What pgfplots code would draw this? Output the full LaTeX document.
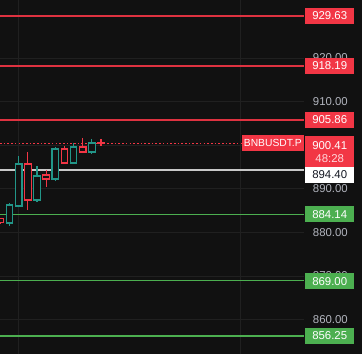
\documentclass[border=0pt]{standalone}
\usepackage{pgfplots}
\pgfplotsset{compat=1.18}
\usepackage{fontspec}
\setmainfont{Liberation Sans}
\definecolor{bg}{RGB}{17,17,17}
\definecolor{grd}{RGB}{32,32,32}
\definecolor{tvred}{RGB}{242,54,69}
\definecolor{lred}{RGB}{222,50,64}
\definecolor{tvgreen}{RGB}{34,150,136}
\definecolor{lgreen}{RGB}{76,175,80}
\definecolor{tickc}{RGB}{178,181,190}
\definecolor{wline}{RGB}{200,200,200}
\definecolor{pinkw}{RGB}{255,215,220}
% \candle{colour}{x}{x left}{x right}{open}{close}{high}{low}
\newcommand\candle[8]{%
  \addplot[#1, line width=1.1pt] coordinates {(#2,#7) (#2,#8)};
  \addplot[#1, line width=1.1pt, fill=bg] coordinates {(#3,#5) (#4,#5) (#4,#6) (#3,#6)} -- cycle;
}
\begin{document}
\begin{tikzpicture}
\fill[bg] (0,0) rectangle (362pt,354pt);
\begin{axis}[name=ax, at={(0,0)}, anchor=south west, scale only axis,
  width=304pt, height=354pt,
  xmin=-0.04, xmax=33.18, ymin=852.11, ymax=933.30,
  axis line style={draw=none},
  major tick length=0pt,
  xtick={1.93,26.2}, xticklabels={},
  ytick={860,870,880,890,900,910,920},
  yticklabel pos=right,
  xmajorgrids, ymajorgrids,
  grid style={grd, line width=0.7pt},
  /pgf/number format/.cd, fixed, fixed zerofill, precision=2, 1000 sep={}, assume math mode=true,
  /pgfplots/.cd,
  yticklabel style={font=\fontsize{11.4}{12}\selectfont, text=tickc, anchor=east, inner sep=0pt, xshift=44pt},
  clip=false]
% level lines
\addplot[lred, line width=1.9pt] coordinates {(-0.04,929.63) (33.18,929.63)};
\addplot[lred, line width=1.9pt] coordinates {(-0.04,918.19) (33.18,918.19)};
\addplot[lred, line width=1.9pt] coordinates {(-0.04,905.86) (33.18,905.86)};
\addplot[wline, line width=1.9pt] coordinates {(-0.04,894.40) (33.18,894.40)};
\addplot[lgreen, line width=1.5pt] coordinates {(-0.04,884.14) (33.18,884.14)};
\addplot[lgreen, line width=1.5pt] coordinates {(-0.04,869.00) (33.18,869.00)};
\addplot[lgreen, line width=1.5pt] coordinates {(-0.04,856.25) (33.18,856.25)};
\addplot[tvred, line width=1.1pt, dash pattern=on 1.6pt off 2.1pt] coordinates {(-0.04,900.41) (26.3,900.41)};
% candles
\candle{tvred}{0}{-0.36}{0.36}{883.1}{882.2}{883.3}{882.0}
\candle{tvgreen}{1}{0.64}{1.36}{882.15}{886.28}{886.74}{881.46}
\candle{tvgreen}{2}{1.64}{2.36}{886.05}{895.69}{897.52}{885.8}
\candle{tvred}{3}{2.64}{3.36}{895.69}{887.43}{898.44}{885.13}
\candle{tvgreen}{4}{3.64}{4.36}{887.43}{892.93}{895.23}{886.97}
\candle{tvred}{5}{4.64}{5.36}{893.16}{892.25}{894.31}{890.41}
\candle{tvgreen}{6}{5.64}{6.36}{892.25}{899.12}{899.5}{891.8}
\candle{tvred}{7}{6.64}{7.36}{899.12}{895.92}{899.81}{895.7}
\candle{tvgreen}{8}{7.64}{8.36}{895.92}{899.58}{900.5}{895.9}
\candle{tvred}{9}{8.64}{9.36}{899.58}{898.44}{901.65}{898.44}
\candle{tvgreen}{10}{9.64}{10.36}{898.44}{900.5}{901.42}{897.98}
\candle{tvred}{11}{10.64}{11.36}{900.5}{900.41}{901.42}{899.9}
\coordinate (p1) at (axis cs:33.18,929.63);
\coordinate (p2) at (axis cs:33.18,918.19);
\coordinate (p3) at (axis cs:33.18,905.86);
\coordinate (p4) at (axis cs:33.18,902.11);
\coordinate (p5) at (axis cs:33.18,893.16);
\coordinate (p6) at (axis cs:33.18,884.14);
\coordinate (p7) at (axis cs:33.18,868.80);
\coordinate (p8) at (axis cs:33.18,856.25);
\coordinate (p9) at (axis cs:33.18,900.41);
\end{axis}
\tikzset{pbox/.style={minimum width=49pt, minimum height=16pt, inner sep=0pt, anchor=west, text=white, font=\fontsize{11.4}{13}\selectfont}}
\node[pbox, fill=tvred] at ([xshift=1pt]p1) {929.63};
\node[pbox, fill=tvred] at ([xshift=1pt]p2) {918.19};
\node[pbox, fill=tvred] at ([xshift=1pt]p3) {905.86};
\node[pbox, fill=white, text={rgb,255:red,19;green,23;blue,34}] at ([xshift=1pt]p5) {894.40};
\node[pbox, fill=tvred, anchor=north west, minimum height=31pt, align=center] at ([xshift=1pt]p4) {900.41\\\textcolor{pinkw}{48:28}};
\node[pbox, fill=lgreen] at ([xshift=1pt]p6) {884.14};
\node[pbox, fill=lgreen] at ([xshift=1pt]p7) {869.00};
\node[pbox, fill=lgreen] at ([xshift=1pt]p8) {856.25};
\node[fill=tvred, text=white, minimum width=62pt, minimum height=16pt, inner sep=1pt, anchor=east, font=\fontsize{10.3}{12}\selectfont] at (p9) {BNBUSDT.P};
\pgfresetboundingbox
\path (0,0) rectangle (362pt,354pt);
\end{tikzpicture}
\end{document}
